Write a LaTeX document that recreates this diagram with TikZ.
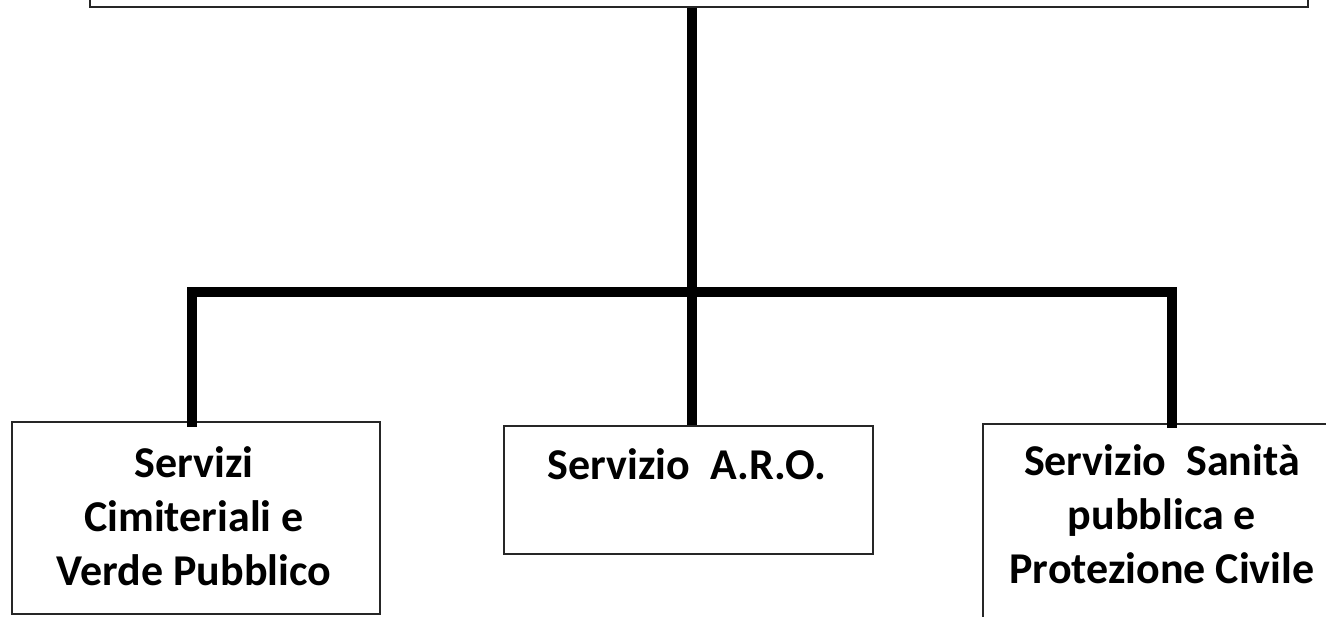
\documentclass[tikz,border=0pt]{standalone}
\usepackage{fontspec}
\setmainfont{Carlito}
\begin{document}
\begin{tikzpicture}[x=1pt,y=-1pt,
  box/.style={draw=black!85,line width=1.6pt,inner sep=0pt,anchor=north west},
  lbl/.style={font=\fontsize{44}{54}\selectfont\bfseries,align=center,inner sep=0pt},
  conn/.style={line width=10pt,black,line join=miter}]
\useasboundingbox (0,0) rectangle (1326,617);
\clip (0,0) rectangle (1326,617);
% top box (cut off)
\node[box,minimum width=1218pt,minimum height=60pt] (top) at (89,-54) {};
% child boxes
\node[box,minimum width=368pt,minimum height=192pt] (left) at (11,421) {};
\node[box,minimum width=369pt,minimum height=128pt] (aro) at (503,425) {};
\node[box,minimum width=400pt,minimum height=260pt] (right) at (982,423) {};
% labels
\node[lbl,anchor=base] (t1) at (194,585) {Servizi\\Cimiteriali e\\Verde Pubblico};
\node[lbl,anchor=base] (t2) at (687,480) {Servizio~ A.R.O.};
\node[lbl,anchor=base] (t3) at (1162,583) {Servizio~ Sanità\\pubblica e\\Protezione Civile};
% connectors
\coordinate (j) at (692,292);
\coordinate (jl) at (192,292);
\coordinate (jr) at (1172,292);
\draw[conn] (top.south -| j) -- (aro.north -| j);
\draw[conn] ([yshift=-6pt]left.north -| jl) -- (jl) -- (jr) -- ([yshift=-5pt]right.north -| jr);
\end{tikzpicture}
\end{document}
